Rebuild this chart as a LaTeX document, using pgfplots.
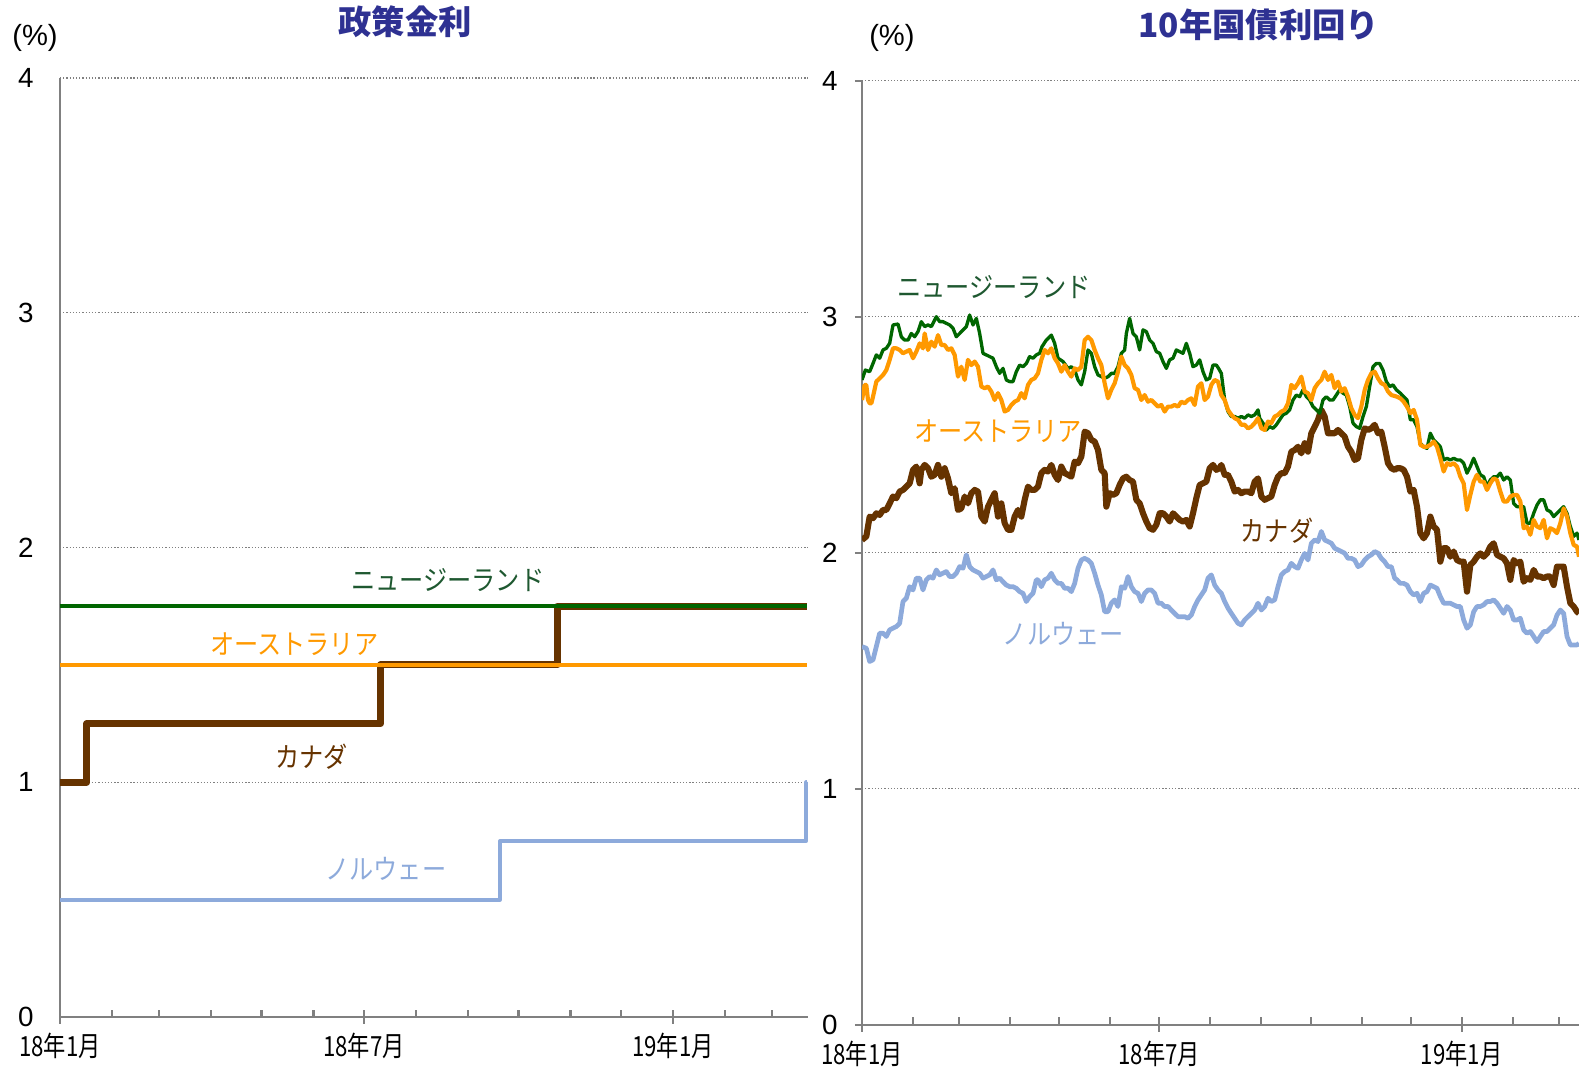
\documentclass[border=0pt]{standalone}
\usepackage{pgfplots}
\pgfplotsset{compat=1.18}
\usepackage{pgfplotstable}
\usepackage{fontspec}
\setmainfont{Liberation Sans}
\newfontfamily\jp{Noto Sans CJK JP}
\newfontfamily\jpc[FakeStretch=0.8]{Noto Sans CJK JP}
\newfontfamily\jpl[FakeStretch=0.87]{Noto Sans CJK JP}
\definecolor{nzline}{RGB}{0,102,0}
\definecolor{nztext}{RGB}{30,88,48}
\definecolor{auline}{RGB}{255,153,0}
\definecolor{caline}{RGB}{102,51,0}
\definecolor{noline}{RGB}{141,170,219}
\definecolor{titleblue}{RGB}{46,49,146}
\definecolor{axgray}{RGB}{128,128,128}

% ---------- 10-year yields (x = position index, months at 12,165,303,...) ----------
\pgfplotstableread{
x y
12 2.732
22 2.774
35 2.767
45 2.802
55 2.838
65 2.824
75 2.859
85 2.866
95 2.887
105 2.965
120 2.969
130 2.915
140 2.901
150 2.901
160 2.929
170 2.915
180 2.937
190 2.979
200 2.958
210 2.965
220 2.958
230 2.986
235 3.000
245 2.979
255 2.979
265 2.972
275 2.965
285 2.951
295 2.915
305 2.929
315 2.944
325 2.958
335 3.007
345 2.965
355 2.993
365 2.929
375 2.845
385 2.838
395 2.831
405 2.824
415 2.788
425 2.760
435 2.781
445 2.732
455 2.725
465 2.725
475 2.767
485 2.795
495 2.788
505 2.802
515 2.831
525 2.824
535 2.838
545 2.845
552 2.873
565 2.901
580 2.922
590 2.887
600 2.824
615 2.810
630 2.781
640 2.788
650 2.774
660 2.732
670 2.711
680 2.767
690 2.859
700 2.845
710 2.788
720 2.753
730 2.746
740 2.739
750 2.746
760 2.760
770 2.760
780 2.788
790 2.845
800 2.859
805 2.929
815 2.993
825 2.929
835 2.915
845 2.859
855 2.944
865 2.937
875 2.901
885 2.887
895 2.852
905 2.845
915 2.810
925 2.781
935 2.817
945 2.824
955 2.859
965 2.852
975 2.845
985 2.887
995 2.845
1005 2.788
1015 2.795
1025 2.817
1035 2.767
1045 2.732
1055 2.739
1065 2.795
1075 2.795
1082 2.780
1090 2.760
1100 2.647
1110 2.598
1120 2.577
1130 2.577
1140 2.570
1150 2.577
1160 2.570
1170 2.584
1180 2.577
1190 2.584
1200 2.605
1205 2.570
1215 2.549
1225 2.520
1235 2.534
1245 2.527
1255 2.542
1265 2.563
1275 2.584
1285 2.591
1295 2.605
1305 2.647
1315 2.668
1325 2.661
1335 2.690
1345 2.661
1355 2.647
1365 2.619
1375 2.605
1385 2.591
1395 2.647
1405 2.661
1415 2.647
1425 2.647
1435 2.668
1445 2.690
1455 2.676
1465 2.668
1475 2.619
1485 2.549
1495 2.534
1505 2.527
1515 2.577
1525 2.619
1535 2.704
1545 2.788
1555 2.802
1565 2.802
1575 2.774
1585 2.725
1595 2.704
1605 2.711
1615 2.690
1627 2.676
1637 2.661
1647 2.647
1657 2.563
1667 2.563
1677 2.534
1687 2.464
1697 2.449
1707 2.442
1717 2.506
1727 2.478
1737 2.464
1747 2.449
1757 2.393
1767 2.400
1777 2.393
1787 2.400
1797 2.393
1807 2.393
1817 2.379
1827 2.337
1837 2.365
1847 2.400
1857 2.365
1867 2.330
1877 2.322
1887 2.280
1897 2.308
1907 2.322
1917 2.322
1927 2.337
1937 2.308
1947 2.322
1957 2.308
1967 2.209
1977 2.195
1987 2.195
1997 2.195
2007 2.125
2017 2.125
2027 2.167
2037 2.202
2047 2.224
2057 2.224
2067 2.181
2077 2.174
2087 2.153
2097 2.167
2107 2.181
2117 2.195
2127 2.167
2137 2.111
2147 2.069
2157 2.083
2163 2.054
}\nzten

\pgfplotstableread{
x y
12 2.647
20 2.711
25 2.711
30 2.647
35 2.633
40 2.633
45 2.661
55 2.725
65 2.739
75 2.753
85 2.774
95 2.817
105 2.866
115 2.866
125 2.859
135 2.845
145 2.852
155 2.859
165 2.824
175 2.852
185 2.887
195 2.866
200 2.929
210 2.859
220 2.894
230 2.873
240 2.922
250 2.880
260 2.880
270 2.859
280 2.866
290 2.838
300 2.746
310 2.788
320 2.732
330 2.817
340 2.795
350 2.810
360 2.788
370 2.704
380 2.697
390 2.704
400 2.683
410 2.647
420 2.676
430 2.647
440 2.598
450 2.605
460 2.626
470 2.640
480 2.647
490 2.676
500 2.654
510 2.711
520 2.732
530 2.739
540 2.760
550 2.817
560 2.859
570 2.845
580 2.866
590 2.824
600 2.802
610 2.767
620 2.795
630 2.767
640 2.746
650 2.781
660 2.774
670 2.788
680 2.901
690 2.915
700 2.901
710 2.859
720 2.824
730 2.795
740 2.718
750 2.654
760 2.690
770 2.718
780 2.767
790 2.831
800 2.795
810 2.781
820 2.753
830 2.697
840 2.690
850 2.647
860 2.668
870 2.640
880 2.647
890 2.633
900 2.619
910 2.626
920 2.598
930 2.619
940 2.619
950 2.626
960 2.619
970 2.640
980 2.633
990 2.647
1000 2.654
1010 2.626
1020 2.704
1030 2.718
1040 2.647
1050 2.661
1060 2.711
1070 2.732
1080 2.725
1090 2.668
1100 2.647
1110 2.605
1120 2.584
1130 2.570
1140 2.563
1150 2.542
1160 2.542
1170 2.527
1180 2.534
1190 2.549
1200 2.570
1210 2.527
1220 2.520
1230 2.556
1240 2.549
1250 2.577
1260 2.584
1270 2.598
1280 2.605
1290 2.633
1300 2.711
1310 2.697
1320 2.718
1330 2.746
1340 2.683
1350 2.676
1360 2.647
1370 2.697
1380 2.718
1390 2.732
1400 2.767
1410 2.732
1420 2.753
1430 2.697
1440 2.725
1450 2.683
1460 2.697
1470 2.661
1480 2.612
1490 2.584
1500 2.570
1510 2.619
1520 2.689
1530 2.732
1540 2.760
1550 2.767
1560 2.739
1570 2.718
1580 2.711
1590 2.683
1600 2.668
1617 2.661
1627 2.654
1637 2.640
1647 2.619
1657 2.591
1667 2.605
1677 2.563
1687 2.457
1697 2.449
1707 2.449
1717 2.457
1727 2.471
1737 2.449
1747 2.400
1757 2.344
1767 2.379
1777 2.372
1787 2.379
1797 2.365
1807 2.322
1817 2.294
1827 2.181
1837 2.245
1847 2.301
1857 2.330
1867 2.301
1877 2.301
1887 2.266
1897 2.294
1907 2.315
1917 2.308
1927 2.259
1937 2.217
1947 2.217
1957 2.238
1967 2.245
1977 2.245
1987 2.217
1997 2.104
2007 2.111
2017 2.076
2027 2.139
2037 2.111
2047 2.104
2057 2.139
2067 2.061
2077 2.104
2087 2.097
2097 2.083
2107 2.125
2117 2.188
2127 2.153
2137 2.083
2147 2.033
2157 2.026
2163 1.983
}\auten

\pgfplotstableread{
x y
12 2.054
25 2.069
35 2.153
45 2.146
55 2.167
65 2.160
75 2.181
85 2.181
95 2.209
105 2.238
115 2.231
125 2.259
135 2.266
145 2.280
155 2.294
165 2.351
175 2.365
185 2.294
190 2.351
200 2.372
210 2.358
220 2.322
230 2.330
240 2.372
250 2.322
260 2.358
270 2.315
280 2.252
290 2.273
300 2.181
310 2.188
320 2.238
330 2.209
340 2.252
350 2.266
360 2.259
370 2.153
380 2.132
390 2.195
400 2.224
410 2.252
420 2.153
430 2.209
440 2.125
450 2.097
460 2.097
470 2.153
480 2.181
490 2.153
500 2.224
510 2.280
520 2.266
530 2.266
540 2.280
550 2.337
560 2.351
570 2.344
580 2.372
590 2.330
600 2.308
610 2.365
620 2.337
630 2.330
640 2.322
650 2.386
660 2.379
670 2.407
680 2.513
690 2.506
700 2.478
710 2.471
720 2.435
730 2.351
740 2.337
745 2.195
755 2.252
765 2.245
775 2.252
785 2.287
795 2.315
805 2.322
815 2.308
825 2.301
835 2.224
845 2.209
855 2.167
865 2.132
875 2.104
885 2.097
895 2.118
905 2.167
915 2.167
925 2.153
935 2.132
945 2.167
955 2.153
965 2.139
975 2.132
985 2.139
995 2.111
1005 2.167
1015 2.231
1025 2.287
1035 2.294
1045 2.301
1055 2.358
1065 2.372
1075 2.351
1085 2.358
1090 2.372
1100 2.330
1110 2.330
1120 2.301
1130 2.259
1140 2.266
1150 2.252
1160 2.259
1170 2.259
1180 2.252
1190 2.301
1200 2.315
1210 2.238
1220 2.224
1230 2.231
1240 2.238
1250 2.287
1260 2.322
1270 2.337
1280 2.337
1290 2.365
1300 2.428
1310 2.435
1320 2.449
1330 2.421
1340 2.464
1350 2.428
1360 2.506
1370 2.534
1380 2.563
1390 2.605
1400 2.577
1410 2.506
1420 2.506
1430 2.506
1440 2.520
1450 2.506
1460 2.492
1470 2.449
1480 2.428
1490 2.393
1500 2.400
1510 2.478
1520 2.527
1530 2.520
1540 2.527
1550 2.542
1560 2.506
1570 2.513
1580 2.449
1590 2.379
1600 2.358
1610 2.351
1617 2.358
1627 2.358
1637 2.351
1647 2.322
1657 2.259
1667 2.266
1677 2.195
1687 2.083
1697 2.061
1707 2.083
1717 2.153
1727 2.111
1737 2.097
1747 1.962
1757 2.019
1767 2.019
1777 1.983
1787 2.005
1797 1.969
1807 1.962
1817 1.962
1827 1.835
1837 1.948
1847 1.962
1857 1.983
1867 1.997
1877 1.983
1887 1.997
1897 2.026
1907 2.040
1917 1.991
1927 1.983
1937 1.976
1947 1.955
1957 1.885
1967 1.969
1977 1.955
1987 1.962
1997 1.877
2007 1.892
2017 1.885
2027 1.927
2037 1.899
2047 1.899
2057 1.892
2067 1.899
2077 1.899
2087 1.863
2097 1.941
2107 1.941
2117 1.941
2127 1.856
2137 1.786
2147 1.772
2157 1.750
2163 1.743
}\caten

\pgfplotstableread{
x y
12 1.602
25 1.595
35 1.539
45 1.546
55 1.602
65 1.659
75 1.659
85 1.645
95 1.673
105 1.680
115 1.687
125 1.701
135 1.793
145 1.807
155 1.856
165 1.842
175 1.892
185 1.892
195 1.842
205 1.885
215 1.899
225 1.892
235 1.927
245 1.906
255 1.913
265 1.920
275 1.899
285 1.899
295 1.913
305 1.941
315 1.934
325 1.991
335 1.941
345 1.927
355 1.920
365 1.913
375 1.892
385 1.899
395 1.906
405 1.927
415 1.885
425 1.892
435 1.877
445 1.863
455 1.856
465 1.856
475 1.849
485 1.835
495 1.828
505 1.793
515 1.814
525 1.828
535 1.885
540 1.885
550 1.856
560 1.885
570 1.892
580 1.913
590 1.885
600 1.870
610 1.870
620 1.849
630 1.849
640 1.835
650 1.870
660 1.934
670 1.969
680 1.976
690 1.969
700 1.955
710 1.913
720 1.863
730 1.821
740 1.750
750 1.750
760 1.786
770 1.800
780 1.772
790 1.856
800 1.849
810 1.899
820 1.856
830 1.835
840 1.828
850 1.793
860 1.828
870 1.842
880 1.842
890 1.828
900 1.786
910 1.786
920 1.772
930 1.772
940 1.757
950 1.743
960 1.729
970 1.729
980 1.729
990 1.722
1000 1.736
1010 1.772
1020 1.800
1030 1.821
1040 1.842
1050 1.892
1060 1.906
1070 1.863
1080 1.842
1090 1.828
1100 1.793
1110 1.765
1120 1.743
1130 1.722
1140 1.701
1150 1.694
1160 1.715
1170 1.729
1180 1.743
1190 1.757
1200 1.786
1210 1.757
1220 1.772
1230 1.807
1240 1.793
1250 1.800
1260 1.856
1270 1.906
1280 1.920
1290 1.927
1300 1.955
1310 1.941
1320 1.934
1330 1.969
1340 1.997
1350 1.969
1360 2.040
1370 2.054
1380 2.047
1390 2.090
1400 2.054
1410 2.047
1420 2.040
1430 2.019
1440 2.012
1450 2.005
1460 1.998
1470 1.976
1480 1.976
1490 1.969
1500 1.941
1510 1.948
1520 1.969
1530 1.983
1540 1.991
1550 2.005
1560 1.998
1570 1.976
1580 1.962
1590 1.941
1600 1.941
1610 1.892
1617 1.885
1627 1.870
1637 1.870
1647 1.863
1657 1.835
1667 1.821
1677 1.828
1687 1.793
1697 1.828
1707 1.835
1717 1.863
1727 1.856
1737 1.849
1747 1.814
1757 1.786
1767 1.786
1777 1.786
1787 1.779
1797 1.772
1807 1.772
1817 1.715
1827 1.680
1837 1.694
1847 1.750
1857 1.772
1867 1.772
1877 1.779
1887 1.793
1897 1.793
1907 1.800
1917 1.786
1927 1.765
1937 1.743
1947 1.772
1957 1.757
1967 1.715
1977 1.715
1987 1.722
1997 1.673
2007 1.659
2017 1.666
2027 1.645
2037 1.623
2047 1.645
2057 1.666
2067 1.666
2077 1.680
2087 1.694
2097 1.736
2107 1.757
2117 1.743
2127 1.645
2137 1.609
2147 1.609
2157 1.609
2163 1.616
}\noten

\pgfplotsset{
  mybase/.style={
    scale only axis,
    axis x line=bottom, axis y line=left,
    axis line style={draw=axgray, line width=0.8pt, -},
    ymin=0, ymax=4, ytick={0,1,2,3,4},
    ymajorgrids,
    grid style={draw=axgray, line width=0.45pt, dash pattern=on 0.45pt off 0.7pt},
    tick style={draw=axgray, line width=0.8pt},
    major tick length=2.6pt,
    xtick align=inside,
    /pgf/number format/assume math mode=true,
    yticklabel style={font=\fontsize{10}{12}\selectfont, anchor=east, inner sep=0pt},
    xticklabel style={font=\jpc\fontsize{10}{12}\selectfont, anchor=north, inner sep=0pt, yshift=-3.2pt},
    xticklabels={},
    extra x tick style={xtick align=center, major tick length=5pt},
    every axis plot/.append style={line join=round},
  }
}

\begin{document}
\begin{tikzpicture}
\useasboundingbox (0,0) rectangle (568.44pt,383.76pt);

% ===== left: policy rates (x = days since 1 Jan 2018) =====
\begin{axis}[mybase,
  at={(21.6pt,17.64pt)}, anchor=south west,
  width=269.3pt, height=338pt,
  xmin=0, xmax=445.5,
  xtick={0,31,59,90,120,151,181,212,243,273,304,334,365,396,424},
  extra x ticks={0,181,365},
  extra x tick labels={18年1月,18年7月,19年1月},
  ytick style={draw=none},
  yticklabel style={xshift=-8pt},
]
\addplot[const plot, caline, line width=2.5pt] coordinates {(0,1.0) (16,1.25) (191,1.5) (296,1.75) (445,1.75)};
\addplot[auline, line width=1.45pt] coordinates {(0,1.5) (445,1.5)};
\addplot[nzline, line width=1.45pt] coordinates {(0,1.75) (445,1.75)};
\addplot[const plot, noline, line width=1.4pt] coordinates {(0,0.5) (262,0.75) (444.5,1.0) (445,1.0)};
\node[text=nztext, font=\jpl\fontsize{10}{12}\selectfont] at (axis cs:231,1.862) {ニュージーランド};
\node[text=auline, font=\jpl\fontsize{10}{12}\selectfont] at (axis cs:139.5,1.587) {オーストラリア};
\node[text=caline, font=\jpl\fontsize{10}{12}\selectfont] at (axis cs:150,1.107) {カナダ};
\node[text=noline, font=\jpl\fontsize{10}{12}\selectfont] at (axis cs:194,0.63) {ノルウェー};
\end{axis}

% ===== right: 10-year yields =====
\begin{axis}[mybase,
  at={(310.32pt,14.87pt)}, anchor=south west,
  width=258.12pt, height=339.84pt,
  xmin=12, xmax=2163,
  xtick={12,165,303,456,604,756,904,1057,1210,1358,1511,1659,1811,1964,2102},
  extra x ticks={12,904,1811},
  extra x tick labels={18年1月,18年7月,19年1月},
  ytick align=outside,
  yticklabel style={xshift=-6pt},
]
\addplot[noline, line width=1.7pt] table[x=x,y=y] {\noten};
\addplot[caline, line width=2.2pt] table[x=x,y=y] {\caten};
\addplot[nzline, line width=1.2pt] table[x=x,y=y] {\nzten};
\addplot[auline, line width=1.5pt] table[x=x,y=y] {\auten};
\node[text=nztext, font=\jpl\fontsize{10}{12}\selectfont] at (axis cs:408,3.126) {ニュージーランド};
\node[text=auline, font=\jpl\fontsize{10}{12}\selectfont] at (axis cs:420,2.515) {オーストラリア};
\node[text=caline, font=\jpl\fontsize{10}{12}\selectfont] at (axis cs:1257,2.094) {カナダ};
\node[text=noline, font=\jpl\fontsize{10}{12}\selectfont] at (axis cs:616,1.655) {ノルウェー};
\end{axis}

% titles and unit labels
\node[text=titleblue, font=\jp\bfseries\fontsize{12}{14}\selectfont] at (145.8pt,375.8pt) {政策金利};
\node[text=titleblue, font=\jp\bfseries\fontsize{12}{14}\selectfont] at (453.2pt,374.8pt) {10年国債利回り};
\node[font=\fontsize{10.5}{12}\selectfont] at (12.6pt,370.1pt) {(\%)};
\node[font=\fontsize{10.5}{12}\selectfont] at (321.1pt,370.1pt) {(\%)};
\end{tikzpicture}
\end{document}
